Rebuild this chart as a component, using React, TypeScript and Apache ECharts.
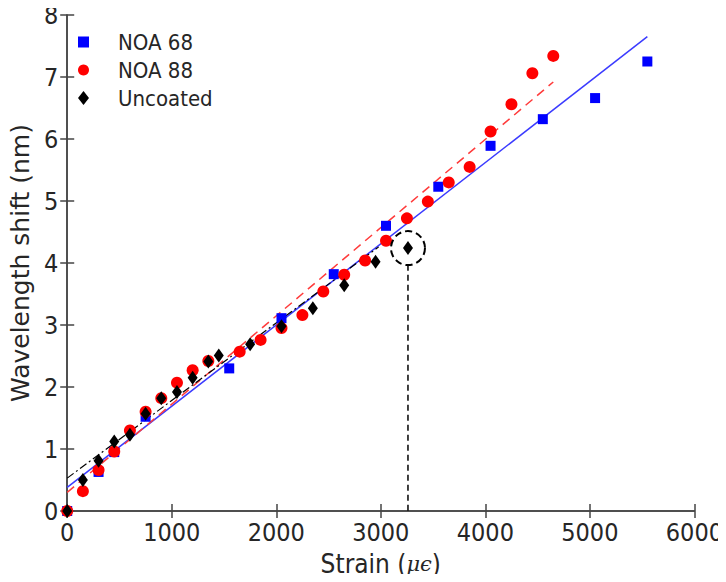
import React, { useEffect, useRef } from "react";
import * as echarts from "echarts";

// ---- data (strain in µε, wavelength shift in nm) ----
const noa68: [number, number][] = [
  [0, 0], [300, 0.63], [450, 0.95], [750, 1.52], [1550, 2.3], [2050, 3.11],
  [2550, 3.82], [3050, 4.6], [3550, 5.23], [4050, 5.89], [4550, 6.32],
  [5050, 6.66], [5550, 7.25],
];
const noa88: [number, number][] = [
  [0, 0], [150, 0.32], [300, 0.66], [450, 0.96], [600, 1.3], [750, 1.6],
  [900, 1.82], [1050, 2.07], [1200, 2.27], [1350, 2.42], [1650, 2.57],
  [1850, 2.76], [2050, 2.95], [2250, 3.16], [2450, 3.54], [2650, 3.81],
  [2850, 4.04], [3050, 4.36], [3250, 4.72], [3450, 4.99], [3650, 5.3],
  [3850, 5.55], [4050, 6.12], [4250, 6.56], [4450, 7.06], [4650, 7.34],
];
const uncoated: [number, number][] = [
  [0, 0], [150, 0.5], [300, 0.81], [450, 1.12], [600, 1.23], [750, 1.57],
  [900, 1.82], [1050, 1.92], [1200, 2.15], [1350, 2.41], [1450, 2.51],
  [1750, 2.69], [2050, 2.98], [2350, 3.27], [2650, 3.64], [2950, 4.02],
  [3260, 4.24],
];
const fit68: [number, number][] = [[0, 0.38], [5550, 7.65]];
const fit88: [number, number][] = [[0, 0.3], [4650, 6.92]];
const fitUncoated: [number, number][] = [[0, 0.53], [2980, 4.26]];
const outlier: [number, number][] = [[3260, 4.24]];
const outlierDrop: [number, number][] = [[3260, 3.97], [3260, 0]];

const xTicks = { min: 0, max: 6000, interval: 1000 };
const yTicks = { min: 0, max: 8, interval: 1 };

const NARROW = "'Liberation Sans Narrow', 'DejaVu Sans Condensed', 'Liberation Sans', sans-serif";
const WIDE = "'DejaVu Sans', 'Liberation Sans', sans-serif";
const TXT = "#262626";
const AX = "#444";

export default function App() {
  const ref = useRef<HTMLDivElement>(null);
  useEffect(() => {
    if (!ref.current) return;
    const chart = echarts.init(ref.current, undefined, { renderer: "svg" });
    const axisLine = { show: true, lineStyle: { color: AX, width: 1.5 } };
    const axisTick = { show: true, inside: true, length: 7, lineStyle: { color: AX, width: 1.5 } };
    const plain = (v: number) => String(v);
    chart.setOption({
      animation: false,
      backgroundColor: "#fff",
      textStyle: { fontFamily: NARROW, color: TXT },
      grid: { left: 66, right: 28, top: 15, bottom: 71 },
      legend: {
        orient: "vertical",
        left: 78,
        top: 31,
        padding: 0,
        itemWidth: 11,
        itemHeight: 14,
        itemGap: 6,
        textStyle: { fontFamily: NARROW, fontSize: 22, lineHeight: 20, color: TXT, padding: [0, 0, 0, 24] },
        data: [
          { name: "NOA 68", icon: "path://M0,0H10V10H0Z" },
          { name: "NOA 88", icon: "circle" },
          { name: "Uncoated", icon: "diamond" },
        ],
      },
      xAxis: [
        {
          type: "value",
          ...xTicks,
          position: "bottom",
          name: "{a|Strain (}{b|μϵ}{a|)}",
          nameLocation: "middle",
          nameGap: 40,
          nameTextStyle: {
            fontFamily: NARROW,
            fontSize: 26,
            color: TXT,
            rich: {
              a: { fontFamily: NARROW, fontSize: 26, color: TXT },
              b: { fontFamily: "'DejaVu Serif', serif", fontStyle: "italic", fontSize: 21, color: TXT },
            },
          },
          axisLine,
          axisTick,
          splitLine: { show: false },
          axisLabel: { fontFamily: NARROW, fontSize: 25, color: TXT, margin: 9, formatter: plain },
        },
        {
          type: "value",
          ...xTicks,
          position: "top",
          axisLine,
          axisTick,
          splitLine: { show: false },
          axisLabel: { show: false },
        },
      ],
      yAxis: [
        {
          type: "value",
          ...yTicks,
          position: "left",
          name: "Wavelength shift (nm)",
          nameLocation: "middle",
          nameGap: 31,
          nameTextStyle: { fontFamily: WIDE, fontSize: 25, color: TXT },
          axisLine,
          axisTick,
          splitLine: { show: false },
          axisLabel: { fontFamily: NARROW, fontSize: 25, color: TXT, margin: 9, formatter: plain },
        },
        {
          type: "value",
          ...yTicks,
          position: "right",
          axisLine,
          axisTick,
          splitLine: { show: false },
          axisLabel: { show: false },
        },
      ],
      series: [
        {
          name: "fit68", type: "line", data: fit68, symbol: "none", z: 2,
          lineStyle: { color: "#3b3bff", width: 1.5 },
        },
        {
          name: "fit88", type: "line", data: fit88, symbol: "none", z: 2,
          lineStyle: { color: "#ff3b3b", width: 1.5, type: [9, 6] },
        },
        {
          name: "fitUncoated", type: "line", data: fitUncoated, symbol: "none", z: 2,
          lineStyle: { color: "#000", width: 1.2, type: [8, 3, 2, 3] },
        },
        {
          name: "NOA 68", type: "scatter", data: noa68, symbol: "rect", symbolSize: 10, z: 3,
          itemStyle: { color: "#0000ff", opacity: 1 },
        },
        {
          name: "NOA 88", type: "scatter", data: noa88, symbol: "circle", symbolSize: 12, z: 4,
          itemStyle: { color: "#ff0000", opacity: 1 },
        },
        {
          name: "Uncoated", type: "scatter", data: uncoated, symbol: "diamond", symbolSize: [10, 14], z: 5,
          itemStyle: { color: "#000", opacity: 1 },
        },
        {
          name: "outlier", type: "scatter", data: outlier, symbol: "circle", symbolSize: 34, z: 5,
          itemStyle: { color: "none", opacity: 1, borderColor: "#000", borderWidth: 2, borderType: [7, 4] },
        },
        {
          name: "drop", type: "line", data: outlierDrop, symbol: "none", z: 5,
          lineStyle: { color: "#000", width: 1.5, type: [6, 4] },
        },
      ],
    });
    return () => chart.dispose();
  }, []);
  return <div ref={ref} style={{ width: 726, height: 582, margin: -8 }} />;
}
